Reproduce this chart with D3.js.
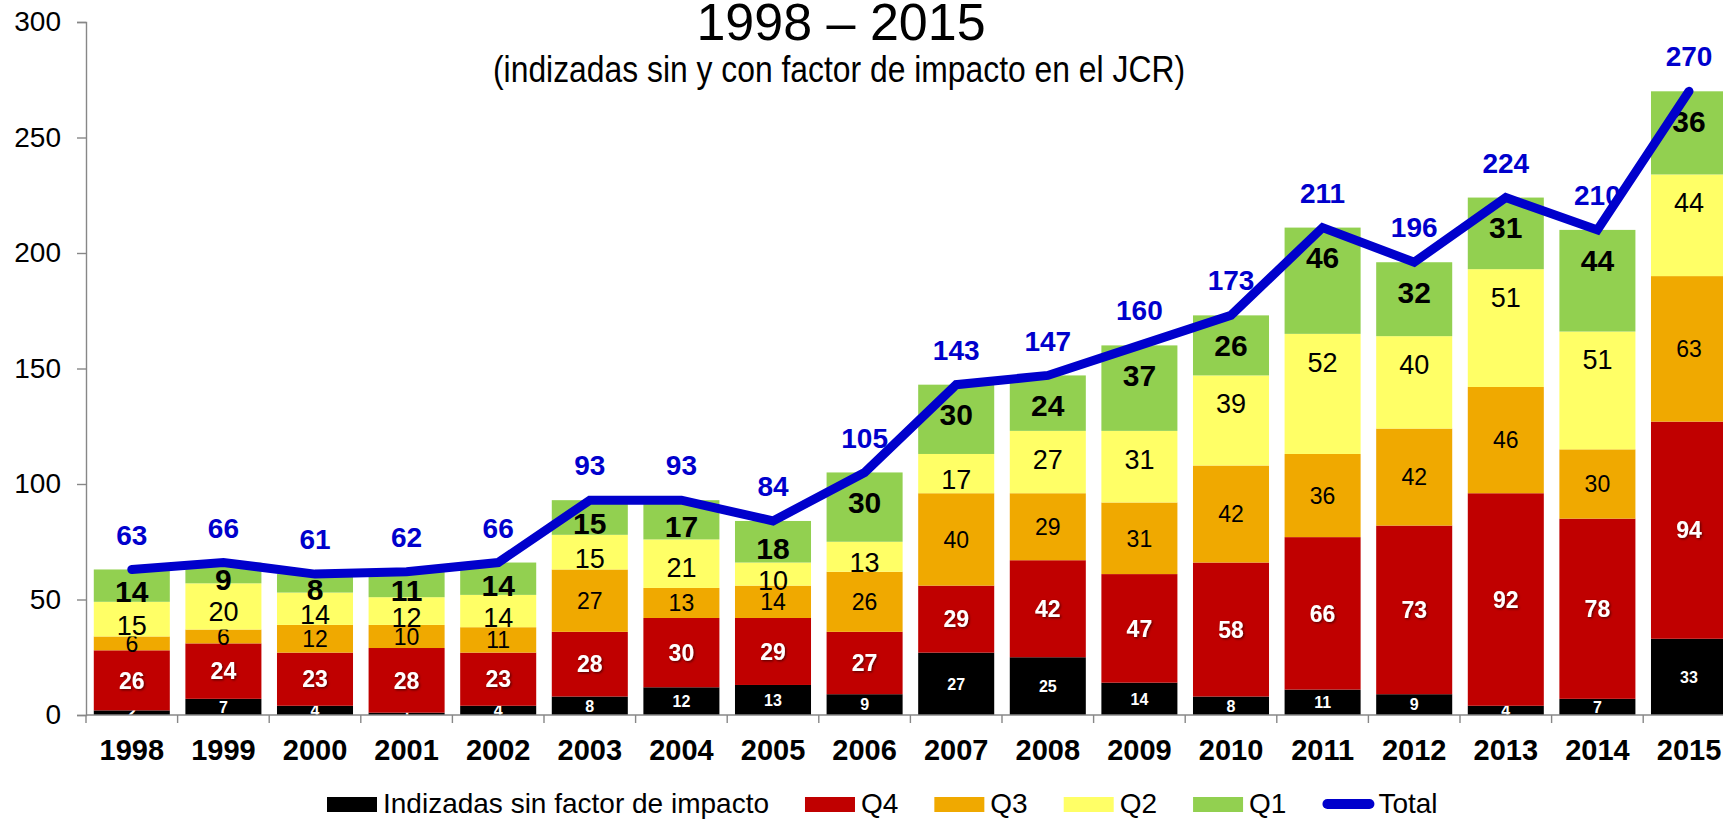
<!DOCTYPE html>
<html lang="es">
<head>
    <meta charset="UTF-8">
    <title>Publicaciones 1998 - 2015</title>
    <script src="https://d3js.org/d3.v7.min.js"></script>
    <style>
        body {
            margin: 0;
            background: #fff;
            font-family: "Liberation Sans", Arial, sans-serif;
        }
        svg {
            display: block;
        }
        .axis path, .axis line {
            stroke: #878787;
            stroke-width: 1.4px;
        }
        .axis text {
            fill: #000;
            font-family: "Liberation Sans", Arial, sans-serif;
        }
    </style>
</head>
<body>
    <div id="container"></div>

    <script>
        // data
        const years = ['1998','1999','2000','2001','2002','2003','2004','2005','2006',
                       '2007','2008','2009','2010','2011','2012','2013','2014','2015'];
        const sinFactor = [2, 7, 4, 1, 4, 8, 12, 13, 9, 27, 25, 14, 8, 11, 9, 4, 7, 33];
        const q4 = [26, 24, 23, 28, 23, 28, 30, 29, 27, 29, 42, 47, 58, 66, 73, 92, 78, 94];
        const q3 = [6, 6, 12, 10, 11, 27, 13, 14, 26, 40, 29, 31, 42, 36, 42, 46, 30, 63];
        const q2 = [15, 20, 14, 12, 14, 15, 21, 10, 13, 17, 27, 31, 39, 52, 40, 51, 51, 44];
        const q1 = [14, 9, 8, 11, 14, 15, 17, 18, 30, 30, 24, 37, 26, 46, 32, 31, 44, 36];
        const total = [63, 66, 61, 62, 66, 93, 93, 84, 105, 143, 147, 160, 173, 211, 196, 224, 210, 270];
        const yTicks = [0, 50, 100, 150, 200, 250, 300];

        const seriesKeys = ['sin', 'q4', 'q3', 'q2', 'q1'];
        const seriesNames = ['Indizadas sin factor de impacto', 'Q4', 'Q3', 'Q2', 'Q1'];

        const width = 1723, height = 819;
        const marginLeft = 86, plotTop = 22, plotBottom = 715;
        const step = 91.6;

        // table for the stack
        const rows = years.map((yr, i) => ({
            year: yr, sin: sinFactor[i], q4: q4[i], q3: q3[i], q2: q2[i], q1: q1[i], total: total[i]
        }));

        const svg = d3.select('#container').append('svg')
            .attr('width', width)
            .attr('height', height);

        // label shadow for the red segment numbers
        svg.append('defs').append('filter')
            .attr('id', 'shadow')
            .attr('x', '-20%').attr('y', '-20%').attr('width', '140%').attr('height', '140%')
            .append('feDropShadow')
            .attr('dx', 1.2).attr('dy', 1.2)
            .attr('stdDeviation', 0.8)
            .attr('flood-color', '#000')
            .attr('flood-opacity', 0.55);

        // scales
        const x = d3.scaleBand()
            .domain(years)
            .range([marginLeft, marginLeft + step * years.length])
            .paddingInner(0.17)
            .paddingOuter(0.085);

        const y = d3.scaleLinear()
            .domain([0, 300])
            .range([plotBottom, plotTop]);

        const color = d3.scaleOrdinal()
            .domain(seriesKeys)
            .range(['#000000', '#C00000', '#F0A900', '#FFFF66', '#92D050']);

        // titles
        svg.append('text')
            .attr('x', 841).attr('y', 40)
            .attr('text-anchor', 'middle')
            .style('font-size', '52px')
            .text('1998 \u2013 2015');

        svg.append('text')
            .attr('x', 839).attr('y', 82)
            .attr('text-anchor', 'middle')
            .attr('textLength', 692)
            .attr('lengthAdjust', 'spacingAndGlyphs')
            .style('font-size', '37px')
            .text('(indizadas sin y con factor de impacto en el JCR)');

        // stacked bars
        const stacked = d3.stack().keys(seriesKeys)(rows);

        const groups = svg.selectAll('g.serie')
            .data(stacked)
            .enter()
            .append('g')
            .attr('class', 'serie')
            .attr('fill', d => color(d.key));

        groups.selectAll('rect')
            .data(d => d)
            .enter()
            .append('rect')
            .attr('x', d => x(d.data.year))
            .attr('width', x.bandwidth())
            .attr('y', d => y(d[1]))
            .attr('height', d => y(d[0]) - y(d[1]));

        // axes
        const yAxis = d3.axisLeft(y)
            .tickValues(yTicks)
            .tickSize(9)
            .tickPadding(16);

        svg.append('g')
            .attr('class', 'axis')
            .attr('transform', `translate(${marginLeft},0)`)
            .call(yAxis)
            .call(g => g.selectAll('text').style('font-size', '28px'));

        const xAxis = d3.axisBottom(x).tickSize(0).tickPadding(0);
        const gx = svg.append('g')
            .attr('class', 'axis')
            .attr('transform', `translate(0,${plotBottom})`)
            .call(xAxis);
        gx.select('.domain').attr('d', `M${marginLeft},0H${marginLeft + step * years.length}`);
        gx.selectAll('text')
            .attr('y', 45)
            .attr('dy', null)
            .style('font-size', '29px')
            .style('font-weight', 'bold');

        // category separator ticks
        const gap = (x.step() - x.bandwidth()) / 2;
        gx.selectAll('line.sep')
            .data(years)
            .enter()
            .append('line')
            .attr('class', 'sep')
            .attr('x1', d => x(d) - gap)
            .attr('x2', d => x(d) - gap)
            .attr('y1', 0)
            .attr('y2', 8);

        // segment labels
        const labelStyle = {
            sin: { size: 16, weight: 'bold', fill: '#fff' },
            q4:  { size: 23, weight: 'bold', fill: '#fff' },
            q3:  { size: 23, weight: 'normal', fill: '#000' },
            q2:  { size: 27, weight: 'normal', fill: '#000' },
            q1:  { size: 30, weight: 'bold', fill: '#000' }
        };

        function labelY(key, d) {
            const t = y(d[1]);
            const h = y(d[0]) - y(d[1]);
            if (key === 'q1') return t + Math.min(30, h / 2 + 6);
            if (key === 'q2') return t + Math.min(28, h / 2 + 6);
            return t + h / 2;
        }

        groups.each(function(serie) {
            const st = labelStyle[serie.key];
            d3.select(this).selectAll('text')
                .data(serie)
                .enter()
                .append('text')
                .attr('x', d => x(d.data.year) + x.bandwidth() / 2)
                .attr('y', d => labelY(serie.key, d))
                .attr('dy', '0.36em')
                .attr('text-anchor', 'middle')
                .attr('fill', st.fill)
                .attr('filter', serie.key === 'q4' ? 'url(#shadow)' : null)
                .style('font-size', st.size + 'px')
                .style('font-weight', st.weight)
                .text(d => d.data[serie.key]);
        });

        // total labels
        svg.selectAll('text.total')
            .data(rows)
            .enter()
            .append('text')
            .attr('class', 'total')
            .attr('x', d => x(d.year) + x.bandwidth() / 2)
            .attr('y', d => y(d.total) - 35)
            .attr('dy', '0.36em')
            .attr('text-anchor', 'middle')
            .attr('fill', '#0000CC')
            .style('font-size', '28px')
            .style('font-weight', 'bold')
            .text(d => d.total);

        // total line
        const line = d3.line()
            .x(d => x(d.year) + x.bandwidth() / 2)
            .y(d => y(d.total));

        svg.append('path')
            .datum(rows)
            .attr('d', line)
            .attr('fill', 'none')
            .attr('stroke', '#0000CC')
            .attr('stroke-width', 9)
            .attr('stroke-linejoin', 'miter')
            .attr('stroke-linecap', 'round');

        // legend
        const legend = svg.append('g').attr('transform', 'translate(327,0)');
        let lx = 0;
        seriesKeys.concat(['total']).forEach((key, i) => {
            const item = legend.append('g').attr('transform', `translate(${lx},0)`);
            if (key === 'total') {
                item.append('line')
                    .attr('x1', 5).attr('x2', 47)
                    .attr('y1', 804).attr('y2', 804)
                    .attr('stroke', '#0000CC')
                    .attr('stroke-width', 10)
                    .attr('stroke-linecap', 'round');
            } else {
                item.append('rect')
                    .attr('x', 0).attr('y', 797)
                    .attr('width', 50).attr('height', 15)
                    .attr('fill', color(key));
            }
            const t = item.append('text')
                .attr('x', 56).attr('y', 813)
                .style('font-size', '28px')
                .text(key === 'total' ? 'Total' : seriesNames[i]);
            lx += 56 + t.node().getComputedTextLength() + 36;
        });
    </script>
</body>
</html>
